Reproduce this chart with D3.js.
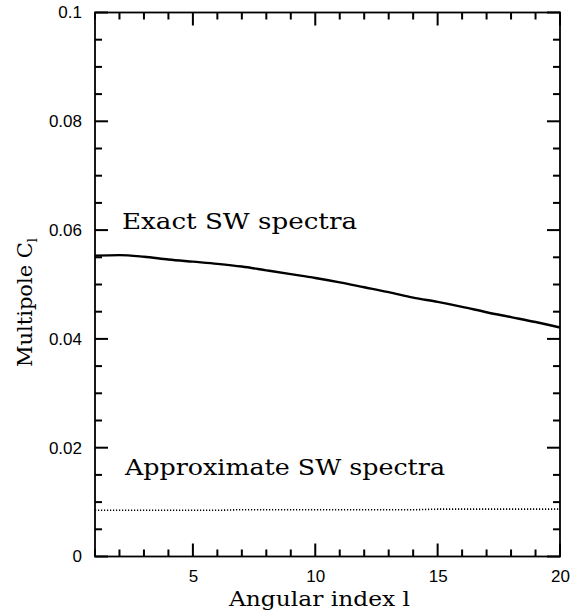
<!DOCTYPE html>
<html>
<head>
<meta charset="utf-8">
<script src="https://cdn.jsdelivr.net/npm/d3@7"></script>
<style>
  body { margin: 0; background: #fff; }
</style>
</head>
<body>
<div id="chart"></div>
<script>
// angular index l
const ells = d3.range(1, 21);
// exact SW spectrum C_l
const exactSW = [0.0553, 0.0554, 0.0551, 0.0546, 0.0542, 0.0538, 0.0533, 0.0526, 0.0519, 0.0512,
                 0.0504, 0.0495, 0.0486, 0.0476, 0.0468, 0.0459, 0.0449, 0.0440, 0.0431, 0.0421];
// approximate SW spectrum C_l
const approxSW = [0.0085, 0.0085, 0.0085, 0.0085, 0.0085, 0.0085, 0.0086, 0.0086, 0.0086, 0.0086,
                  0.0086, 0.0086, 0.0086, 0.0086, 0.0087, 0.0087, 0.0087, 0.0087, 0.0087, 0.0087];
const xMajor = [5, 10, 15, 20];
const xMinor = d3.range(1, 21);
const yMajor = [0, 0.02, 0.04, 0.06, 0.08, 0.1];
const yMinor = d3.range(0, 0.1001, 0.005);

const W = 571, H = 615;
const m = { left: 95, right: 560, top: 12.5, bottom: 556.5 };

const svg = d3.select("#chart").append("svg")
  .attr("width", W).attr("height", H);

const x = d3.scaleLinear().domain([1, 20]).range([m.left, m.right]);
const y = d3.scaleLinear().domain([0, 0.1]).range([m.bottom, m.top]);

const fmtY = (d) => (d === 0 ? "0" : d3.format("~g")(d));
const isMajorY = (d) => Math.abs(d / 0.02 - Math.round(d / 0.02)) < 1e-6;

// tick labels through d3 axes
function labelsOnly(g) {
  g.select(".domain").remove();
  g.selectAll(".tick line").remove();
  g.selectAll(".tick text")
    .attr("fill", "#000")
    .style("font-family", "'Liberation Sans', Arial, sans-serif")
    .style("font-size", "17px");
}
svg.append("g").attr("transform", `translate(0,${m.bottom})`)
  .call(d3.axisBottom(x).tickValues(xMajor).tickSize(0).tickPadding(13))
  .call(labelsOnly);
svg.append("g").attr("transform", `translate(${m.left},0)`)
  .call(d3.axisLeft(y).tickValues(yMajor).tickSize(0).tickPadding(13).tickFormat(fmtY))
  .call(labelsOnly);

// inward tick marks on all four sides, as small filled rects
const tw = 2;
const tg = svg.append("g").attr("fill", "#000");
const xLen = (d) => (xMajor.includes(d) ? 13 : 7);
const yLen = (d) => (isMajorY(d) ? 13 : 7);
tg.selectAll(".xb").data(xMinor).enter().append("rect").attr("class", "xb")
  .attr("x", (d) => x(d) - tw / 2).attr("y", (d) => m.bottom - xLen(d))
  .attr("width", tw).attr("height", xLen);
tg.selectAll(".xt").data(xMinor).enter().append("rect").attr("class", "xt")
  .attr("x", (d) => x(d) - tw / 2).attr("y", m.top)
  .attr("width", tw).attr("height", xLen);
tg.selectAll(".yl").data(yMinor).enter().append("rect").attr("class", "yl")
  .attr("x", m.left).attr("y", (d) => y(d) - tw / 2)
  .attr("width", yLen).attr("height", tw);
tg.selectAll(".yr").data(yMinor).enter().append("rect").attr("class", "yr")
  .attr("x", (d) => m.right - yLen(d)).attr("y", (d) => y(d) - tw / 2)
  .attr("width", yLen).attr("height", tw);

// frame
svg.append("rect")
  .attr("x", m.left).attr("y", m.top)
  .attr("width", m.right - m.left).attr("height", m.bottom - m.top)
  .attr("fill", "none").attr("stroke", "#000").attr("stroke-width", 1.8);

const line = d3.line().x((d, i) => x(ells[i])).y((d) => y(d)).curve(d3.curveMonotoneX);

svg.append("path").datum(exactSW)
  .attr("d", line).attr("fill", "none")
  .attr("stroke", "#000").attr("stroke-width", 2.4);

svg.append("path").datum(approxSW)
  .attr("d", line).attr("fill", "none")
  .attr("stroke", "#000").attr("stroke-width", 1.6)
  .attr("stroke-dasharray", "1.2,1.8");

const serif = "'DejaVu Serif', 'Liberation Serif', serif";

svg.append("text").attr("x", 122).attr("y", 229)
  .attr("textLength", 235).attr("lengthAdjust", "spacingAndGlyphs")
  .style("font-family", serif).style("font-size", "22px")
  .text("Exact SW spectra");

svg.append("text").attr("x", 125).attr("y", 475)
  .attr("textLength", 320).attr("lengthAdjust", "spacingAndGlyphs")
  .style("font-family", serif).style("font-size", "22px")
  .text("Approximate SW spectra");

svg.append("text").attr("x", 229).attr("y", 606)
  .attr("textLength", 181).attr("lengthAdjust", "spacingAndGlyphs")
  .style("font-family", serif).style("font-size", "20px")
  .text("Angular index l");

const yt = svg.append("text")
  .attr("transform", "translate(32,367) rotate(-90)")
  .style("font-family", serif).style("font-size", "21px");
yt.append("tspan").text("Multipole C");
yt.append("tspan").attr("dy", 5).style("font-size", "13px").text("l");
</script>
</body>
</html>
